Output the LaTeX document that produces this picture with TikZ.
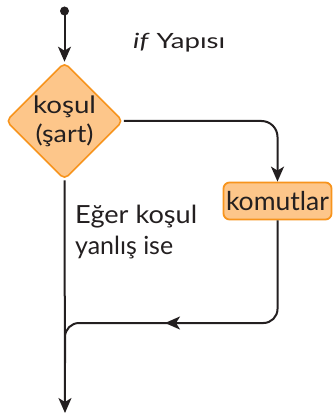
\documentclass[tikz,border=0pt]{standalone}
\usepackage{fontspec}
\usepackage{graphicx}
\setmainfont{Lato}
\usetikzlibrary{shapes.geometric,arrows.meta,calc}
\definecolor{boxfill}{HTML}{FDC68A}
\definecolor{boxdraw}{HTML}{F7941D}
\definecolor{ink}{HTML}{231F20}
\newcommand\fitw[2]{\resizebox{#1}{\height}{#2}}
\tikzset{
  decision/.style={diamond,draw=boxdraw,fill=boxfill,line width=1.6pt,rounded corners=5pt,
    minimum width=117pt,minimum height=117pt,inner sep=0pt,align=center,text=ink,font=\fontsize{24}{29}\selectfont},
  cmdbox/.style={rectangle,draw=boxdraw,fill=boxfill,line width=1.8pt,rounded corners=6pt,
    minimum width=108pt,minimum height=37pt,inner sep=0pt,text=ink,font=\fontsize{26}{30}\selectfont},
  arr/.style={draw=ink,line width=2pt,-{Stealth[length=15pt,width=13pt,inset=4pt]}},
  conn/.style={draw=ink,line width=2pt},
  lbl/.style={text=ink,inner sep=0pt,align=left},
}
\begin{document}
\begin{tikzpicture}[x=1pt,y=-1pt]
\useasboundingbox (0,0) rectangle (332,414);
\node[decision] (c) at (64.5,121) {\fitw{63pt}{koşul}\\\fitw{58pt}{(şart)}};
\node[cmdbox] (k) at (277.5,201) {\fitw{103pt}{komutlar}};
\coordinate (s) at (64.5,11);
\fill[ink] (s) circle (4.5pt);
\coordinate (j) at (65,323);
\coordinate (e) at (65,413);
\node[lbl,anchor=base west,font=\fontsize{21}{24}\selectfont] (t) at (133,49) {\fitw{92pt}{\textit{if} Yapısı}};
\node[lbl,anchor=base west,font=\fontsize{25}{31}\selectfont] (n) at (75,254) {\fitw{122pt}{Eğer koşul}\\\fitw{98pt}{yanlış ise}};
\draw[arr] (s) -- (c.north);
\draw[arr,rounded corners=16pt] (c.east) -- (k.north |- c.east) -- (k.north);
\draw[arr] (c.south) -- (e);
\draw[conn,rounded corners=14pt] (k.south) -- (k.south |- j) -- (j) -- ($(j)+(0,40)$);
\coordinate (m) at (165,323);
\draw[arr] ([xshift=15pt]m) -- (m);
\end{tikzpicture}
\end{document}
